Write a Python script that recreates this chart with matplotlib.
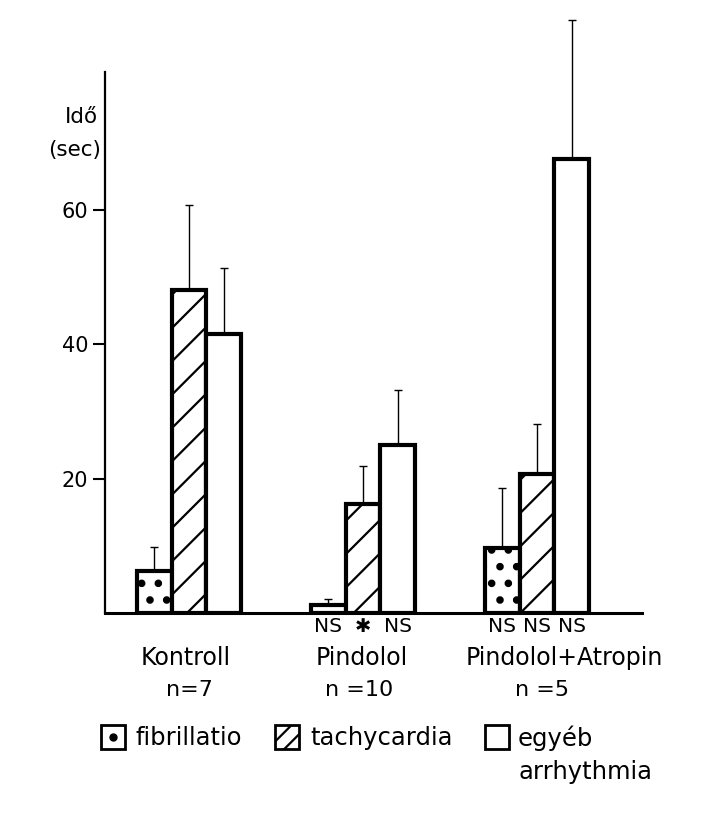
import numpy as np
import matplotlib
matplotlib.use('Agg')
from matplotlib import pyplot as plt
from matplotlib.patches import Rectangle
from matplotlib.lines import Line2D

plt.rcParams['font.family'] = ['DejaVu Sans']

groups = ['Kontroll', 'Pindolol', 'Pindolol+Atropin']
n_labels = ['n=7', 'n =10', 'n =5']
series = ['fibrillatio', 'tachycardia', 'egyéb\narrhythmia']
fibrillatio = [6.25, 1.2, 9.7]
tachycardia = [48.1, 16.2, 20.7]
egyeb = [41.5, 25.0, 67.6]
fibrillatio_err = [3.6, 0.9, 8.9]
tachycardia_err = [12.6, 5.7, 7.4]
egyeb_err = [9.8, 8.2, 20.6]
signif = [['', '', ''], ['NS', '\u2731', 'NS'], ['NS', 'NS', 'NS']]
yticks = [20, 40, 60]

W, H = 704, 813
fig = plt.figure(figsize=(W / 100, H / 100), dpi=100)
ax = fig.add_axes([105 / W, 1 - 613 / H, 537 / W, 541 / H])

x = np.arange(len(groups))
w = 0.2
vals = [fibrillatio, tachycardia, egyeb]
errs = [fibrillatio_err, tachycardia_err, egyeb_err]
hatches = ['.', '/', '']
hatch_lw = [3.0, 1.6, 1.0]
for i in range(3):
    xi = x + (i - 1) * w
    plt.rcParams['hatch.linewidth'] = hatch_lw[i]
    bars = ax.bar(xi, vals[i], w, color='white', edgecolor='black', linewidth=3,
                  hatch=hatches[i], zorder=2)
    for b in bars:
        if hasattr(b, 'set_hatch_linewidth'):
            b.set_hatch_linewidth(hatch_lw[i])
    eb = ax.errorbar(xi, vals[i], yerr=[np.zeros(3), errs[i]], fmt='none',
                     ecolor='black', elinewidth=1, capsize=3, capthick=1, zorder=1)
    for a in eb.get_children():
        a.set_clip_on(False)

ax.set_xlim((105 - 189) / 174, (642 - 189) / 174)
ax.set_ylim(0, 80.5)
ax.set_yticks(yticks)
ax.set_xticks([])
ax.spines['top'].set_visible(False)
ax.spines['right'].set_visible(False)
ax.spines['left'].set_linewidth(1.6)
ax.spines['bottom'].set_linewidth(2.2)
ax.tick_params(axis='y', direction='out', length=9, width=1.5, labelsize=15, pad=3)
ax.text(-0.62, 73.8, 'Idő', ha='center', va='center', fontsize=15.5)
ax.text(-0.505, 68.9, '(sec)', ha='right', va='center', fontsize=15.5)

# significance marks and group labels under the axis
for g in range(3):
    for i in range(3):
        s = signif[g][i]
        ax.text(x[g] + (i - 1) * w, -2.0, s, ha='center', va='center',
                fontsize=14 if s == '\u2731' else 14.5, clip_on=False)
label_x = [-0.02, 0.99, 2.155]
n_x = [0.0, 0.98, 2.03]
for g in range(3):
    ax.text(label_x[g], -6.7, groups[g], ha='center', va='center', fontsize=17)
    ax.text(n_x[g], -11.5, n_labels[g], ha='center', va='center', fontsize=16)

# legend drawn by hand
box_x = [101, 275, 485]
text_x = [135, 310, 518]
plt.rcParams['hatch.linewidth'] = 1.6
for i in range(3):
    r = Rectangle((box_x[i] / W, 1 - 749 / H), 24 / W, 24 / H, transform=fig.transFigure,
                  facecolor='white', edgecolor='black', linewidth=2,
                  hatch='//' if i == 1 else None)
    fig.add_artist(r)
fig.add_artist(Line2D([(box_x[0] + 12) / W], [1 - 737 / H], marker='o', markersize=5,
                      color='black', transform=fig.transFigure))
legend_lines = [series[0], series[1]] + series[2].split('\n')
legend_x = text_x + [text_x[2]]
legend_y = [738, 738, 738, 772]
for s, lx, ly in zip(legend_lines, legend_x, legend_y):
    fig.text(lx / W, 1 - ly / H, s, ha='left', va='center', fontsize=17.5)

fig.savefig('out.png', dpi=100, facecolor='white')
